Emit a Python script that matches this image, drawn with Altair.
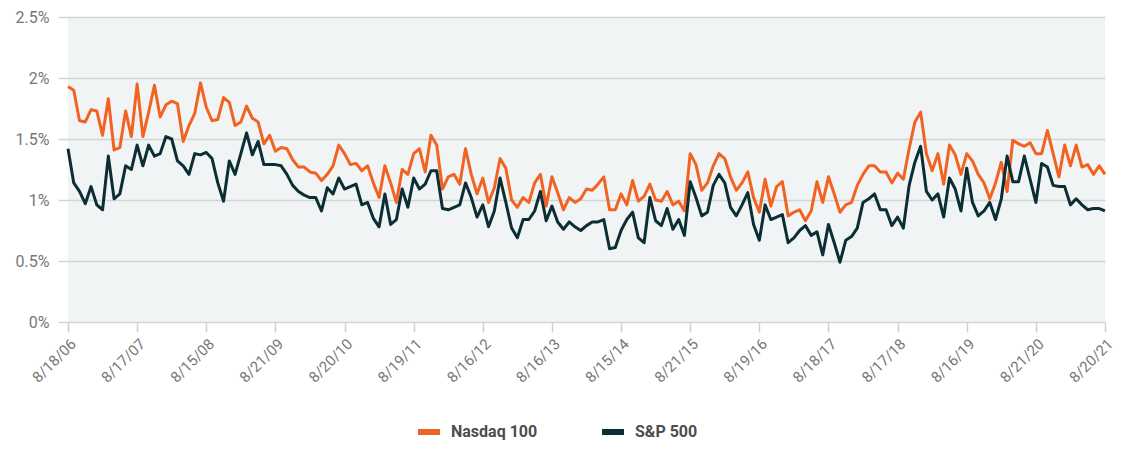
import altair as alt
import pandas as pd

tick_labels = ["8/18/06", "8/17/07", "8/15/08", "8/21/09", "8/20/10", "8/19/11",
               "8/16/12", "8/16/13", "8/15/14", "8/21/15", "8/19/16", "8/18/17",
               "8/17/18", "8/16/19", "8/21/20", "8/20/21"]

series_names = ["Nasdaq 100", "S&P 500"]
series_colors = ["#f26322", "#0b2e35"]

nasdaq = [
    1.93, 1.90, 1.65, 1.64, 1.74, 1.73, 1.53, 1.83, 1.41, 1.43,
    1.73, 1.52, 1.95, 1.52, 1.72, 1.94, 1.68, 1.78, 1.81, 1.79,
    1.48, 1.61, 1.71, 1.96, 1.76, 1.65, 1.66, 1.84, 1.80, 1.61,
    1.64, 1.77, 1.67, 1.64, 1.46, 1.53, 1.40, 1.43, 1.42, 1.33,
    1.27, 1.27, 1.23, 1.22, 1.16, 1.21, 1.28, 1.45, 1.38, 1.29,
    1.30, 1.24, 1.28, 1.14, 1.02, 1.28, 1.14, 0.98, 1.25, 1.21,
    1.38, 1.42, 1.23, 1.53, 1.45, 1.09, 1.19, 1.21, 1.13, 1.42,
    1.21, 1.05, 1.18, 0.98, 1.10, 1.34, 1.26, 1.00, 0.94, 1.02,
    0.98, 1.14, 1.21, 0.95, 1.19, 1.06, 0.92, 1.02, 0.98, 1.01,
    1.09, 1.08, 1.13, 1.19, 0.92, 0.92, 1.05, 0.96, 1.16, 0.99,
    1.03, 1.13, 1.00, 0.99, 1.07, 0.96, 0.99, 0.91, 1.38, 1.29,
    1.08, 1.14, 1.28, 1.38, 1.34, 1.19, 1.08, 1.14, 1.23, 1.02,
    0.90, 1.17, 0.95, 1.11, 1.15, 0.87, 0.90, 0.92, 0.83, 0.91,
    1.15, 0.98, 1.19, 1.05, 0.90, 0.96, 0.98, 1.12, 1.21, 1.28,
    1.28, 1.23, 1.23, 1.14, 1.22, 1.17, 1.42, 1.64, 1.72, 1.38,
    1.24, 1.38, 1.13, 1.45, 1.37, 1.21, 1.38, 1.32, 1.21, 1.14,
    1.01, 1.14, 1.31, 1.07, 1.49, 1.46, 1.44, 1.47, 1.38, 1.38,
    1.57, 1.38, 1.19, 1.45, 1.28, 1.45, 1.27, 1.29, 1.21, 1.28,
    1.21,
]

sp500 = [
    1.42, 1.14, 1.07, 0.97, 1.11, 0.96, 0.92, 1.36, 1.01, 1.05,
    1.28, 1.25, 1.45, 1.28, 1.45, 1.36, 1.38, 1.52, 1.50, 1.32,
    1.28, 1.21, 1.38, 1.37, 1.39, 1.34, 1.14, 0.99, 1.32, 1.21,
    1.38, 1.55, 1.37, 1.48, 1.29, 1.29, 1.29, 1.28, 1.21, 1.12,
    1.07, 1.04, 1.02, 1.02, 0.91, 1.10, 1.05, 1.18, 1.09, 1.11,
    1.13, 0.96, 0.98, 0.85, 0.78, 1.05, 0.80, 0.84, 1.09, 0.94,
    1.18, 1.09, 1.13, 1.24, 1.24, 0.93, 0.92, 0.94, 0.96, 1.14,
    1.02, 0.86, 0.96, 0.78, 0.91, 1.18, 0.98, 0.77, 0.69, 0.84,
    0.84, 0.91, 1.07, 0.83, 0.95, 0.82, 0.76, 0.82, 0.78, 0.75,
    0.79, 0.82, 0.82, 0.84, 0.60, 0.61, 0.75, 0.84, 0.90, 0.69,
    0.65, 1.02, 0.83, 0.79, 0.93, 0.76, 0.84, 0.71, 1.15, 1.02,
    0.87, 0.90, 1.12, 1.21, 1.14, 0.94, 0.87, 0.96, 1.06, 0.80,
    0.67, 0.96, 0.84, 0.86, 0.88, 0.65, 0.69, 0.75, 0.79, 0.71,
    0.74, 0.55, 0.80, 0.65, 0.49, 0.67, 0.70, 0.77, 0.98, 1.01,
    1.05, 0.92, 0.92, 0.79, 0.86, 0.77, 1.12, 1.31, 1.44, 1.07,
    1.00, 1.05, 0.86, 1.18, 1.09, 0.91, 1.26, 0.98, 0.87, 0.91,
    0.98, 0.84, 1.01, 1.36, 1.15, 1.15, 1.36, 1.17, 0.98, 1.30,
    1.27, 1.12, 1.11, 1.11, 0.96, 1.01, 0.96, 0.92, 0.93, 0.93,
    0.91,
]

rows = []
for name, vals in zip(series_names, [nasdaq, sp500]):
    for i, v in enumerate(vals):
        rows.append({"idx": i, "value": v, "series": name})
df = pd.DataFrame(rows)

n_last = len(nasdaq) - 1
step = n_last // (len(tick_labels) - 1)
tick_values = [k * step for k in range(len(tick_labels))]
label_array = "[" + ",".join("'" + t + "'" for t in tick_labels) + "]"

FONT = "Roboto"

chart = (
    alt.Chart(df)
    .mark_line(strokeWidth=3, strokeJoin="round")
    .encode(
        x=alt.X(
            "idx:Q",
            scale=alt.Scale(domain=[0, n_last], nice=False, zero=False),
            axis=alt.Axis(
                title=None,
                values=tick_values,
                labelExpr=label_array + "[round(datum.value / " + str(step) + ")]",
                labelAngle=315,
                labelFontSize=15,
                labelColor="#777777",
                labelFont=FONT,
                labelPadding=4,
                tickSize=10,
                tickColor="#d0d0d0",
                tickWidth=1.5,
                domain=False,
                grid=False,
                labelOverlap=False,
            ),
        ),
        y=alt.Y(
            "value:Q",
            scale=alt.Scale(domain=[0, 2.5], nice=False),
            axis=alt.Axis(
                title=None,
                values=[0, 0.5, 1, 1.5, 2, 2.5],
                labelExpr="datum.value + '%'",
                labelFontSize=16,
                labelColor="#777777",
                labelFont=FONT,
                labelPadding=9,
                tickSize=10,
                tickColor="#d3d4d5",
                tickWidth=1.5,
                gridColor="#d3d4d5",
                gridWidth=1.5,
                domain=False,
            ),
        ),
        color=alt.Color(
            "series:N",
            scale=alt.Scale(domain=series_names, range=series_colors),
            legend=alt.Legend(
                title=None,
                orient="none",
                direction="horizontal",
                legendX=347,
                legendY=401,
                symbolType="stroke",
                symbolStrokeWidth=6,
                symbolSize=484,
                labelFontSize=16,
                labelFont=FONT,
                labelFontWeight="bold",
                labelColor="#4d4d4d",
                labelOffset=8,
                columnPadding=52,
            ),
        ),
        order=alt.Order("idx:Q"),
    )
    .properties(
        width=1037,
        height=305,
        padding={"left": 60, "top": 9, "right": 12, "bottom": 122},
        autosize=alt.AutoSizeParams(type="none"),
        background="white",
    )
    .configure_view(fill="#f1f4f5", strokeWidth=0)
)

chart.save("out.html", embed_options={"renderer": "svg", "actions": False})
